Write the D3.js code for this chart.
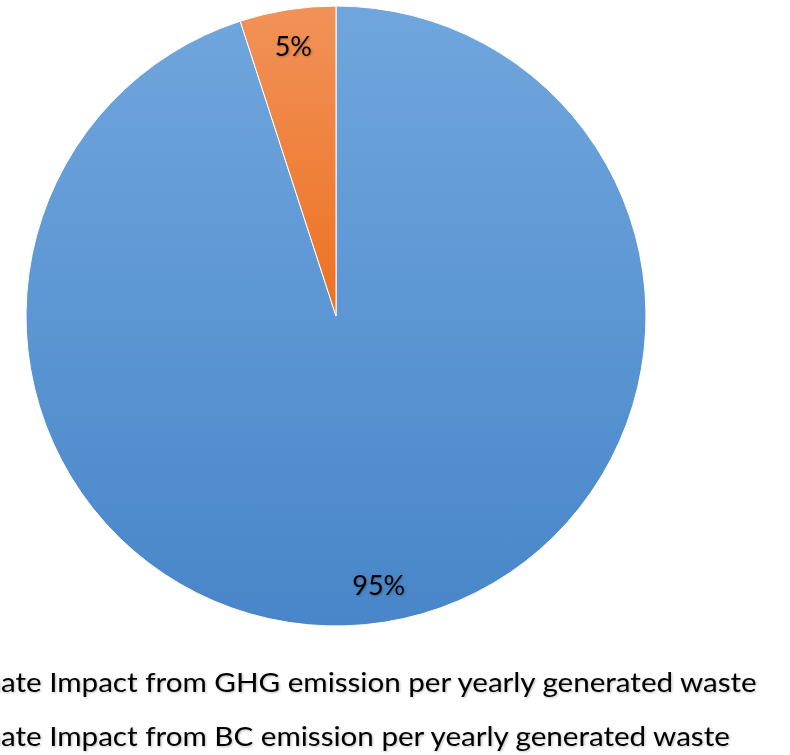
<!DOCTYPE html>
<html>
<head>
<meta charset="utf-8">
<script src="https://cdn.jsdelivr.net/npm/d3@7"></script>
<style>
  body { margin: 0; background: #fff; overflow: hidden; }
  svg { display: block; }
  text { font-family: Lato, "Open Sans", sans-serif; fill: #000; }
</style>
</head>
<body>
<script>
// data
const categories = [
    "Climate Impact from GHG emission per yearly generated waste",
    "Climate Impact from BC emission per yearly generated waste"
];
const values = [95, 5];
const labels = ["95%", "5%"];

const w = 790, h = 755;
const cx = 336, cy = 316, r = 310;

const svg = d3.select("body").append("svg")
    .attr("width", w)
    .attr("height", h);

const defs = svg.append("defs");

// vertical gradients, like the office fill
const grads = [
    {id: "gBlue", top: "#70a6dd", bottom: "#4886c9"},
    {id: "gOrange", top: "#f19258", bottom: "#ed7121"}
];
grads.forEach(g => {
    let lg = defs.append("linearGradient")
        .attr("id", g.id)
        .attr("x1", 0).attr("y1", 0)
        .attr("x2", 0).attr("y2", 1);
    lg.append("stop").attr("offset", "0%").attr("stop-color", g.top);
    lg.append("stop").attr("offset", "100%").attr("stop-color", g.bottom);
});

let shadow = defs.append("filter").attr("id", "txtShadow")
    .attr("x", "-10%").attr("y", "-20%").attr("width", "130%").attr("height", "150%");
shadow.append("feDropShadow")
    .attr("dx", 1).attr("dy", 1).attr("stdDeviation", 0.8)
    .attr("flood-color", "#000").attr("flood-opacity", 0.25);

const pie = d3.pie().sort(null).value(d => d);
const arc = d3.arc().innerRadius(0).outerRadius(r);
const labelArc = d3.arc().innerRadius(273).outerRadius(273);

const g = svg.append("g")
    .attr("transform", `translate(${cx},${cy})`);

const arcs = pie(values);

g.selectAll("path")
    .data(arcs)
    .enter().append("path")
    .attr("d", arc)
    .attr("fill", (d, i) => `url(#${grads[i].id})`)
    .attr("stroke", "#fff")
    .attr("stroke-width", 1);

g.selectAll("text.lbl")
    .data(arcs)
    .enter().append("text")
    .attr("class", "lbl")
    .attr("transform", d => `translate(${labelArc.centroid(d)})`)
    .attr("text-anchor", "middle")
    .attr("dy", "0.36em")
    .style("font-size", "27px")
    .attr("filter", "url(#txtShadow)")
    .text((d, i) => labels[i]);

// legend, left side runs off the page like in the original
const fontSize = 27;
const legendY = [692, 746];
const visibleWidth = 756;

function textWidth(s) {
    let t = svg.append("text").style("font-size", fontSize + "px").text(s);
    let wd = t.node().getComputedTextLength();
    t.remove();
    return wd;
}

// squeeze lato a bit so it takes the room of the narrower office font
const hidden = textWidth(categories[0].slice(0, 4));
const shown = textWidth(categories[0].slice(4));
const sx = visibleWidth / shown;

const legend = svg.append("g")
    .attr("transform", `translate(1,0) scale(${sx},1)`);

legend.selectAll("text")
    .data(categories)
    .enter().append("text")
    .attr("x", -hidden)
    .attr("y", (d, i) => legendY[i])
    .style("font-size", fontSize + "px")
    .attr("filter", "url(#txtShadow)")
    .text(d => d);

legend.selectAll("rect")
    .data(categories)
    .enter().append("rect")
    .attr("x", -hidden - 28)
    .attr("y", (d, i) => legendY[i] - 17)
    .attr("width", 17)
    .attr("height", 17)
    .attr("fill", (d, i) => `url(#${grads[i].id})`);
</script>
</body>
</html>
